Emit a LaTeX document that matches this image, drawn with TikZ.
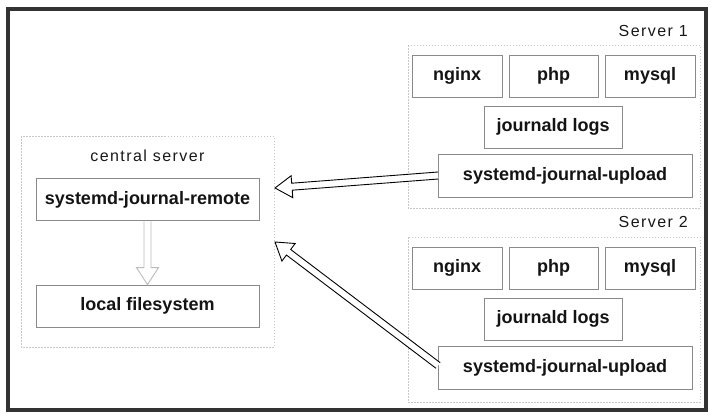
\documentclass[tikz,border=0pt]{standalone}
\usepackage{fontspec}
\setmainfont{Liberation Sans}
\newfontfamily\spacedfont[LetterSpace=9]{Liberation Sans}
\usetikzlibrary{calc}
\definecolor{framecol}{HTML}{333333}
\definecolor{boxline}{HTML}{8A8A8A}
\definecolor{dotline}{HTML}{C8C8C8}
\definecolor{downarrow}{HTML}{BBBBBB}
\tikzset{
  x=1pt, y=-1pt,
  svcbox/.style={draw=boxline, line width=0.8pt, fill=white, rectangle, inner sep=0pt,
    minimum height=42pt, font=\fontsize{18}{20}\selectfont\bfseries, text=black!92},
  grpbox/.style={draw=dotline, line width=0.8pt, dash pattern=on 1.5pt off 1.5pt},
  grplabel/.style={font=\spacedfont\fontsize{16}{18}\selectfont, text=black!90, inner sep=0pt},
}
\newcommand{\fatarrow}[3]{%
  \coordinate (fa-b) at ($(#2)!17pt!(#1)$);
  \draw[#3, line width=0.9pt, fill=white, line join=miter]
    ($(#1)!3.5pt!90:(#2)$) -- ($(fa-b)!3.5pt!90:(#2)$) -- ($(fa-b)!11pt!90:(#2)$)
    -- (#2) -- ($(fa-b)!11pt!-90:(#2)$) -- ($(fa-b)!3.5pt!-90:(#2)$)
    -- ($(#1)!3.5pt!-90:(#2)$);}
\begin{document}
\begin{tikzpicture}
\useasboundingbox (0,0) rectangle (725,416);
\fill[white] (0,0) rectangle (725,416);
\draw[framecol, line width=3.2pt] (8,9) rectangle (706,410);

% central server
\draw[grpbox] (21,136) rectangle (274,347);
\node[grplabel] (clabel) at (147.5,156) {central server};
\node[svcbox, minimum width=223pt] (remote) at (147.5,199.5) {systemd-journal-remote};
\node[svcbox, minimum width=223pt] (localfs) at (147.5,306) {local filesystem};

% server 1
\draw[grpbox] (408,45) rectangle (700,208);
\node[grplabel, anchor=east] (s1label) at (688,31) {Server 1};
\node[svcbox, minimum width=90pt] (nginx1) at (457,76) {nginx};
\node[svcbox, minimum width=89pt] (php1) at (553.5,76) {php};
\node[svcbox, minimum width=90pt] (mysql1) at (650,76) {mysql};
\node[svcbox, minimum width=138pt] (journ1) at (553,127) {journald logs};
\node[svcbox, minimum width=254pt, minimum height=43pt] (upload1) at (565,175.5) {systemd-journal-upload};

% server 2
\draw[grpbox] (408,237) rectangle (700,402);
\node[grplabel, anchor=east] (s2label) at (688,222) {Server 2};
\node[svcbox, minimum width=90pt] (nginx2) at (457,268) {nginx};
\node[svcbox, minimum width=89pt] (php2) at (553.5,268) {php};
\node[svcbox, minimum width=90pt] (mysql2) at (650,268) {mysql};
\node[svcbox, minimum width=138pt] (journ2) at (553,319) {journald logs};
\node[svcbox, minimum width=254pt, minimum height=43pt] (upload2) at (565,367.5) {systemd-journal-upload};

% arrows
\coordinate (tip1) at (275,188);
\coordinate (tip2) at (275,242);
\coordinate (tail1) at ($(upload1.west)+(0.5,0)$);
\coordinate (tail2) at ($(upload2.west)+(0.5,-2)$);
\fatarrow{tail1}{tip1}{black}
\fatarrow{tail2}{tip2}{black}
\coordinate (tail3) at ($(remote.south)+(0,0.5)$);
\coordinate (tip3) at (localfs.north);
\fatarrow{tail3}{tip3}{downarrow}
\end{tikzpicture}
\end{document}
